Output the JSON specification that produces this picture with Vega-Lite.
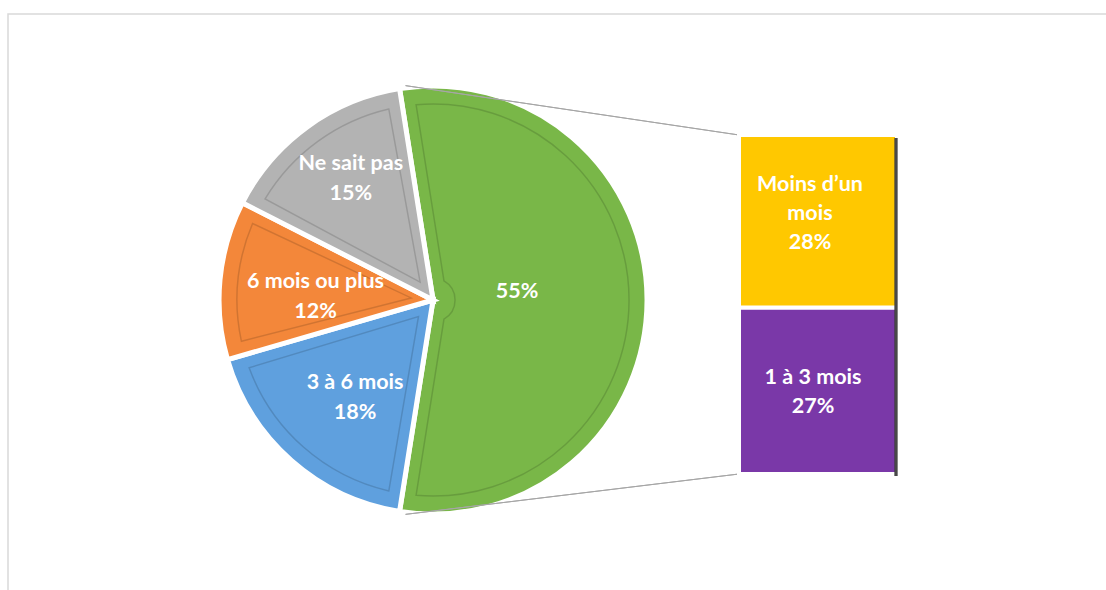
{
  "$schema": "https://vega.github.io/schema/vega-lite/v6.json",
  "width": 1106,
  "height": 590,
  "autosize": {"type": "fit", "contains": "padding"},
  "padding": {"left": 8, "top": 14, "right": -2, "bottom": -2},
  "background": "white",
  "config": {"view": {"stroke": "#d9d9d9", "strokeWidth": 1.5}},
  "params": [
    {"name": "cx", "expr": "width * 0.3864"},
    {"name": "cy", "expr": "height * 0.4948"},
    {"name": "R", "value": 214}
  ],
  "datasets": {
    "camembert": [
      {"categorie": "Moins de 3 mois", "valeur": 55, "ordre": 1, "libelle": "55%"},
      {"categorie": "3 à 6 mois", "valeur": 18, "ordre": 2, "libelle": "3 à 6 mois\n18%"},
      {"categorie": "6 mois ou plus", "valeur": 12, "ordre": 3, "libelle": "6 mois ou plus\n12%"},
      {"categorie": "Ne sait pas", "valeur": 15, "ordre": 4, "libelle": "Ne sait pas\n15%"}
    ],
    "barre": [
      {"groupe": "Moins de 3 mois", "categorie": "1 à 3 mois", "valeur": 27, "ordre": 1, "libelle": "1 à 3 mois\n27%"},
      {"groupe": "Moins de 3 mois", "categorie": "Moins d’un mois", "valeur": 28, "ordre": 2, "libelle": "Moins d’un\nmois\n28%"}
    ]
  },
  "layer": [
    {
      "data": {"name": "camembert"},
      "mark": {"type": "arc", "x": {"expr": "cx"}, "y": {"expr": "cy"}, "outerRadius": {"expr": "R"}, "stroke": "white", "strokeWidth": 5},
      "encoding": {
        "theta": {"field": "valeur", "type": "quantitative", "stack": true, "scale": {"range": [-0.1571, 6.1261]}},
        "order": {"field": "ordre", "type": "quantitative"},
        "color": {
          "field": "categorie", "type": "nominal", "legend": null,
          "scale": {
            "domain": ["Moins de 3 mois", "3 à 6 mois", "6 mois ou plus", "Ne sait pas", "Moins d’un mois", "1 à 3 mois"],
            "range": ["#79b748", "#5fa0de", "#f3873a", "#b3b3b3", "#ffc800", "#7a38a8"]
          }
        }
      }
    },
    {
      "data": {"name": "camembert"},
      "mark": {"type": "arc", "x": {"expr": "cx"}, "y": {"expr": "cy"}, "outerRadius": {"expr": "R - 18"}, "innerRadius": 22, "padAngle": 0.14, "fillOpacity": 0, "stroke": "#000000", "strokeOpacity": 0.14, "strokeWidth": 1.5},
      "encoding": {
        "theta": {"field": "valeur", "type": "quantitative", "stack": true, "scale": {"range": [-0.1571, 6.1261]}},
        "order": {"field": "ordre", "type": "quantitative"}
      }
    },
    {
      "data": {"name": "barre"},
      "mark": {"type": "rule", "color": "#a6a6a6", "strokeWidth": 1},
      "encoding": {
        "x": {"value": {"expr": "cx + R * sin(-0.1571) + 6"}},
        "y": {"value": {"expr": "cy - R * cos(-0.1571) - 3"}},
        "x2": {"value": {"expr": "scale('x', 'Moins de 3 mois')"}},
        "y2": {"value": {"expr": "scale('y', 55)"}}
      }
    },
    {
      "data": {"name": "barre"},
      "mark": {"type": "rule", "color": "#a6a6a6", "strokeWidth": 1},
      "encoding": {
        "x": {"value": {"expr": "cx + R * sin(3.2987) + 6"}},
        "y": {"value": {"expr": "cy - R * cos(3.2987) + 3"}},
        "x2": {"value": {"expr": "scale('x', 'Moins de 3 mois')"}},
        "y2": {"value": {"expr": "scale('y', 0)"}}
      }
    },
    {
      "data": {"name": "camembert"},
      "mark": {"type": "text", "x": {"expr": "cx"}, "y": {"expr": "cy"}, "radius": 84, "dy": -8, "font": "Lato", "fontWeight": "bold", "fontSize": 21.5, "color": "white", "lineBreak": "\n", "lineHeight": 30},
      "encoding": {
        "theta": {"field": "valeur", "type": "quantitative", "stack": true, "scale": {"range": [-0.1571, 6.1261]}},
        "order": {"field": "ordre", "type": "quantitative"},
        "text": {"condition": {"test": "datum.ordre == 1", "field": "libelle"}, "value": ""}
      }
    },
    {
      "data": {"name": "camembert"},
      "mark": {"type": "text", "x": {"expr": "cx"}, "y": {"expr": "cy"}, "radius": 127, "dx": 6, "dy": -12, "font": "Lato", "fontWeight": "bold", "fontSize": 21.5, "color": "white", "lineBreak": "\n", "lineHeight": 30},
      "encoding": {
        "theta": {"field": "valeur", "type": "quantitative", "stack": true, "scale": {"range": [-0.1571, 6.1261]}},
        "order": {"field": "ordre", "type": "quantitative"},
        "text": {"condition": {"test": "datum.ordre == 2", "field": "libelle"}, "value": ""}
      }
    },
    {
      "data": {"name": "camembert"},
      "mark": {"type": "text", "x": {"expr": "cx"}, "y": {"expr": "cy"}, "radius": 118, "dy": -7, "font": "Lato", "fontWeight": "bold", "fontSize": 21.5, "color": "white", "lineBreak": "\n", "lineHeight": 30},
      "encoding": {
        "theta": {"field": "valeur", "type": "quantitative", "stack": true, "scale": {"range": [-0.1571, 6.1261]}},
        "order": {"field": "ordre", "type": "quantitative"},
        "text": {"condition": {"test": "datum.ordre == 3", "field": "libelle"}, "value": ""}
      }
    },
    {
      "data": {"name": "camembert"},
      "mark": {"type": "text", "x": {"expr": "cx"}, "y": {"expr": "cy"}, "radius": 150, "dx": 6, "dy": -15, "font": "Lato", "fontWeight": "bold", "fontSize": 21.5, "color": "white", "lineBreak": "\n", "lineHeight": 30},
      "encoding": {
        "theta": {"field": "valeur", "type": "quantitative", "stack": true, "scale": {"range": [-0.1571, 6.1261]}},
        "order": {"field": "ordre", "type": "quantitative"},
        "text": {"condition": {"test": "datum.ordre == 4", "field": "libelle"}, "value": ""}
      }
    },
    {
      "data": {"name": "barre"},
      "mark": {"type": "bar", "stroke": "white", "strokeWidth": 4},
      "encoding": {
        "x": {"field": "groupe", "type": "nominal", "axis": null, "scale": {"range": [731, 889], "paddingInner": 0, "paddingOuter": 0}},
        "y": {"field": "valeur", "type": "quantitative", "stack": "zero", "axis": null, "scale": {"domain": [0, 55], "range": [460, 121], "nice": false, "zero": false}},
        "order": {"field": "ordre", "type": "quantitative"},
        "color": {
          "field": "categorie", "type": "nominal", "legend": null,
          "scale": {
            "domain": ["Moins de 3 mois", "3 à 6 mois", "6 mois ou plus", "Ne sait pas", "Moins d’un mois", "1 à 3 mois"],
            "range": ["#79b748", "#5fa0de", "#f3873a", "#b3b3b3", "#ffc800", "#7a38a8"]
          }
        }
      }
    },
    {
      "data": {"name": "barre"},
      "mark": {"type": "rule", "color": "#3c3c3c", "strokeOpacity": 0.75, "strokeWidth": 3},
      "encoding": {
        "x": {"value": {"expr": "scale('x', 'Moins de 3 mois') + bandwidth('x') - 1"}},
        "y": {"value": {"expr": "scale('y', 55) + 3"}},
        "x2": {"value": {"expr": "scale('x', 'Moins de 3 mois') + bandwidth('x') - 1"}},
        "y2": {"value": {"expr": "scale('y', 0) + 2"}}
      }
    },
    {
      "data": {"name": "barre"},
      "mark": {"type": "text", "font": "Lato", "fontWeight": "bold", "fontSize": 21.5, "color": "white", "lineBreak": "\n", "lineHeight": 29, "dx": -8, "dy": 50},
      "encoding": {
        "x": {"field": "groupe", "type": "nominal", "axis": null},
        "y": {"field": "valeur", "type": "quantitative", "stack": "zero", "axis": null},
        "order": {"field": "ordre", "type": "quantitative"},
        "text": {"condition": {"test": "datum.ordre == 2", "field": "libelle"}, "value": ""}
      }
    },
    {
      "data": {"name": "barre"},
      "mark": {"type": "text", "font": "Lato", "fontWeight": "bold", "fontSize": 21.5, "color": "white", "lineBreak": "\n", "lineHeight": 29, "dx": -5, "dy": 70},
      "encoding": {
        "x": {"field": "groupe", "type": "nominal", "axis": null},
        "y": {"field": "valeur", "type": "quantitative", "stack": "zero", "axis": null},
        "order": {"field": "ordre", "type": "quantitative"},
        "text": {"condition": {"test": "datum.ordre == 1", "field": "libelle"}, "value": ""}
      }
    }
  ]
}
